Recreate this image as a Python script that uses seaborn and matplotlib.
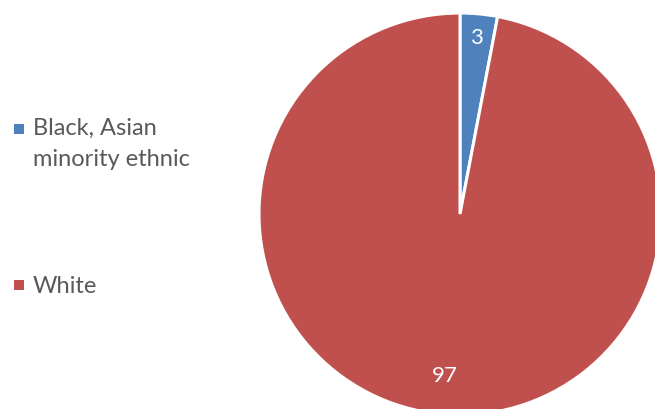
import matplotlib
matplotlib.use("Agg")
import numpy as np
import matplotlib.pyplot as plt
from matplotlib.patches import Rectangle
from matplotlib.legend_handler import HandlerPatch
import seaborn as sns

categories = ["Black, Asian\nminority ethnic", "White"]
values = [3, 97]
colors = ["#4F81BD", "#C0504D"]

sns.set_style("white")
plt.rcParams['font.family'] = ['Lato', 'DejaVu Sans']

fig = plt.figure(figsize=(6.55, 4.09), dpi=100)
# pie centre at about (460, 214) px, radius about 201 px
r_px = 201
ax = fig.add_axes([(460 - r_px) / 655, (409 - 214 - r_px) / 409,
                   2 * r_px / 655, 2 * r_px / 409])
wedges, texts, autotexts = ax.pie(
    values, colors=colors, startangle=90, counterclock=False,
    autopct=lambda p: f"{p:.0f}", pctdistance=0.88, radius=1,
    wedgeprops=dict(edgecolor="white", linewidth=2.2),
    textprops=dict(color="white", fontsize=16))
# large slice label sits a bit further in, like the original
w = wedges[1]
mid = np.deg2rad((w.theta1 + w.theta2) / 2)
autotexts[1].set_position((0.81 * np.cos(mid), 0.81 * np.sin(mid)))
ax.set_xlim(-1, 1)
ax.set_ylim(-1, 1)
ax.set_aspect("equal")
ax.axis("off")


# square marker on the first text line (Excel style)
class TopSquare(HandlerPatch):
    def __init__(self, lines=1, **kw):
        self.lines = lines
        super().__init__(**kw)

    def create_artists(self, legend, orig_handle, xdescent, ydescent,
                       width, height, fontsize, trans):
        s = 0.42 * fontsize
        shift = (self.lines - 1) * 0.64 * fontsize
        p = Rectangle((-xdescent + (width - s) / 2, -ydescent + (height - s) / 2 + shift),
                      s, s, facecolor=orig_handle.get_facecolor(), edgecolor="none",
                      transform=trans)
        return [p]


leg = fig.legend(wedges, categories, loc="center left",
                 bbox_to_anchor=(0.0, 0.493), frameon=False,
                 fontsize=17, labelspacing=4.5, handlelength=0.7,
                 handleheight=0.7, handletextpad=0.25, labelcolor="#595959",
                 borderaxespad=0.05,
                 handler_map={wedges[0]: TopSquare(lines=2), wedges[1]: TopSquare(lines=1)})
for t in leg.get_texts():
    t.set_linespacing(1.6)

fig.savefig("out.png", dpi=100)
